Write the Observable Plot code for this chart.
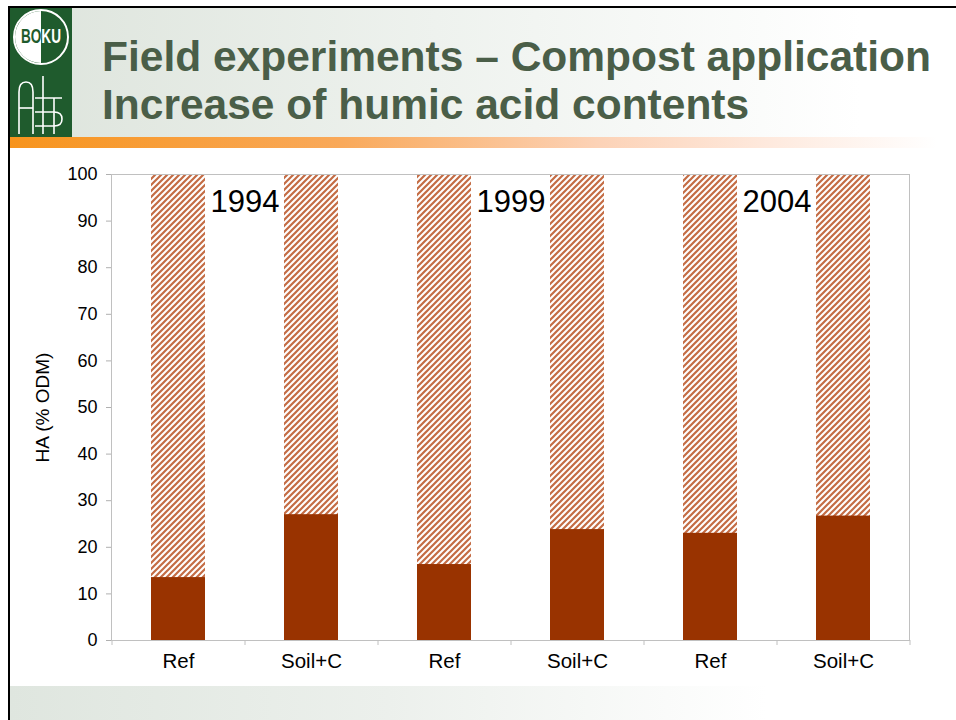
<!DOCTYPE html>
<html>
<head>
<meta charset="utf-8">
<script src="https://cdn.jsdelivr.net/npm/d3@7"></script>
<script src="https://cdn.jsdelivr.net/npm/@observablehq/plot@0.6"></script>
<style>
  body { margin: 0; background: #fff; font-family: "Liberation Sans", Arial, sans-serif; }
  #slide { position: relative; width: 956px; height: 720px; overflow: hidden; background: #fff; }
  .abs { position: absolute; }
  #hdr { left: 10px; top: 8px; width: 946px; height: 129px; background: linear-gradient(to right, #dde4dc 0%, #eef2ee 45%, #ffffff 90%); }
  #topline { left: 8px; top: 6px; width: 948px; height: 2px; background: #000; }
  #leftline { left: 8px; top: 6px; width: 2px; height: 714px; background: #000; }
  #orange { left: 10px; top: 137px; width: 946px; height: 11px; background: linear-gradient(to right, #f7941d 0%, #f9a95a 35%, #fcd2b6 62%, #fee9dd 80%, #ffffff 98%); }
  #bottom { left: 10px; top: 686px; width: 946px; height: 34px; background: linear-gradient(to right, #dfe6df 0%, #ecf0ec 40%, #ffffff 80%); }
  #logo { left: 10px; top: 8px; width: 62px; height: 129px; background: #1f5b2d; }
  #title { left: 102px; top: 33px; font-size: 42.5px; line-height: 48px; font-weight: bold; color: #4a5e48; white-space: nowrap; }
  #chart { left: 0px; top: 150px; }
</style>
</head>
<body>
<svg width="0" height="0" style="position:absolute">
  <defs>
    <pattern id="hatch" patternUnits="userSpaceOnUse" width="6" height="6">
      <rect width="6" height="6" fill="#ffffff"></rect>
      <path d="M-1,1 L1,-1 M0,6 L6,0 M5,7 L7,5" stroke="#c46c44" stroke-width="2.2"></path>
    </pattern>
    <clipPath id="rightHalf"><rect x="31" y="0" width="40" height="70"></rect></clipPath>
    <clipPath id="leftHalf"><rect x="0" y="0" width="31" height="70"></rect></clipPath>
  </defs>
</svg>
<div id="slide">
  <div id="hdr" class="abs"></div>
  <div id="bottom" class="abs"></div>
  <div id="orange" class="abs"></div>
  <div id="logo" class="abs">
    <svg width="62" height="129" viewBox="0 0 62 129">
      <circle cx="31" cy="29" r="27" fill="#1f5b2d" stroke="#ffffff" stroke-width="2"></circle>
      <path d="M31,3 A26,26 0 0,0 31,55 Z" fill="#ffffff"></path>
      <g font-family="Liberation Sans Narrow, Liberation Sans, Arial" font-weight="bold" font-size="17" text-anchor="middle">
        <text x="31" y="35" fill="#1f5b2d" clip-path="url(#leftHalf)" transform="translate(31,0) scale(0.8,1.2) translate(-31,-6)">BOKU</text>
        <text x="31" y="35" fill="#ffffff" clip-path="url(#rightHalf)" transform="translate(31,0) scale(0.8,1.2) translate(-31,-6)">BOKU</text>
      </g>
      <g fill="none" stroke="#ffffff" stroke-width="1.6">
        <path d="M9,126 V84 Q9,74 16,74 Q23,74 23,84 V126"></path>
        <path d="M9,100 H23"></path>
        <path d="M33,68 V126"></path>
        <path d="M25,90 H52 M25,104 H44 M25,118 H44"></path>
        <path d="M44,90 V126"></path>
        <path d="M44,104 Q52,104 52,111 Q52,118 44,118"></path>
      </g>
    </svg>
  </div>
  <div id="topline" class="abs"></div>
  <div id="leftline" class="abs"></div>
  <div id="title" class="abs">Field experiments – Compost application<br>Increase of humic acid contents</div>
  <div id="chart" class="abs"></div>
</div>
<script>
// ---- data ----
const years = ["1994", "1999", "2004"];
const treatments = ["Ref", "Soil+C"];
const haValues = [13.5, 27.0, 16.3, 23.8, 23.0, 26.7]; // HA (% ODM), ordered year x treatment
const yTicks = [0, 10, 20, 30, 40, 50, 60, 70, 80, 90, 100];
const yMax = 100;
const yAxisTitle = "HA (% ODM)";

// ---- layout constants ----
const W = 956, H = 536, mL = 111, mR = 47, mT = 24, mB = 46;
const nCats = years.length * treatments.length;
const step = (W - mL - mR) / nCats;
const yearLabelY = 94;

const keys = years.flatMap(y => treatments.map(t => y + "|" + t));
const rows = keys.map((k, i) => ({
  key: k,
  year: k.split("|")[0],
  treatment: k.split("|")[1],
  ha: haValues[i],
  total: yMax
}));
const yearRows = years.map(y => ({ key: y + "|" + treatments[0], label: y }));

const font = "'Liberation Sans', Arial, sans-serif";

const chart = Plot.plot({
  width: W,
  height: H,
  marginLeft: mL,
  marginRight: mR,
  marginTop: mT,
  marginBottom: mB,
  style: { background: "transparent", fontFamily: font, color: "black", overflow: "visible" },
  x: { domain: keys, paddingInner: 0.594, paddingOuter: 0.297, axis: null },
  y: { domain: [0, yMax], axis: null },
  marks: [
    Plot.barY(rows, { x: "key", y: "total", fill: "url(#hatch)" }),
    Plot.barY(rows, { x: "key", y: "ha", fill: "#993300" }),
    Plot.frame({ stroke: "#c0c0c0" }),
    Plot.axisY(yTicks, { tickSize: 5, tickPadding: 9, fontSize: 18, stroke: "#b0b0b0", fill: "black", label: null }),
    Plot.axisX(keys, { tickSize: 5, tickFormat: () => "", dx: step / 2, stroke: "#c0c0c0", label: null }),
    Plot.axisX([keys[0]], { tickSize: 5, tickFormat: () => "", dx: -step / 2, stroke: "#c0c0c0", label: null }),
    Plot.axisX(keys, { tickSize: 0, tickPadding: 13, fontSize: 20.5, fill: "black", tickFormat: k => k.split("|")[1], label: null }),
    Plot.text(yearRows, { x: "key", y: () => yearLabelY, text: "label", dx: step / 2, fontSize: 31, fill: "black" }),
    Plot.text([yAxisTitle], { frameAnchor: "left", textAnchor: "middle", rotate: -90, dx: -69, fontSize: 19, fill: "black" })
  ]
});
document.getElementById("chart").appendChild(chart);
</script>
</body>
</html>
